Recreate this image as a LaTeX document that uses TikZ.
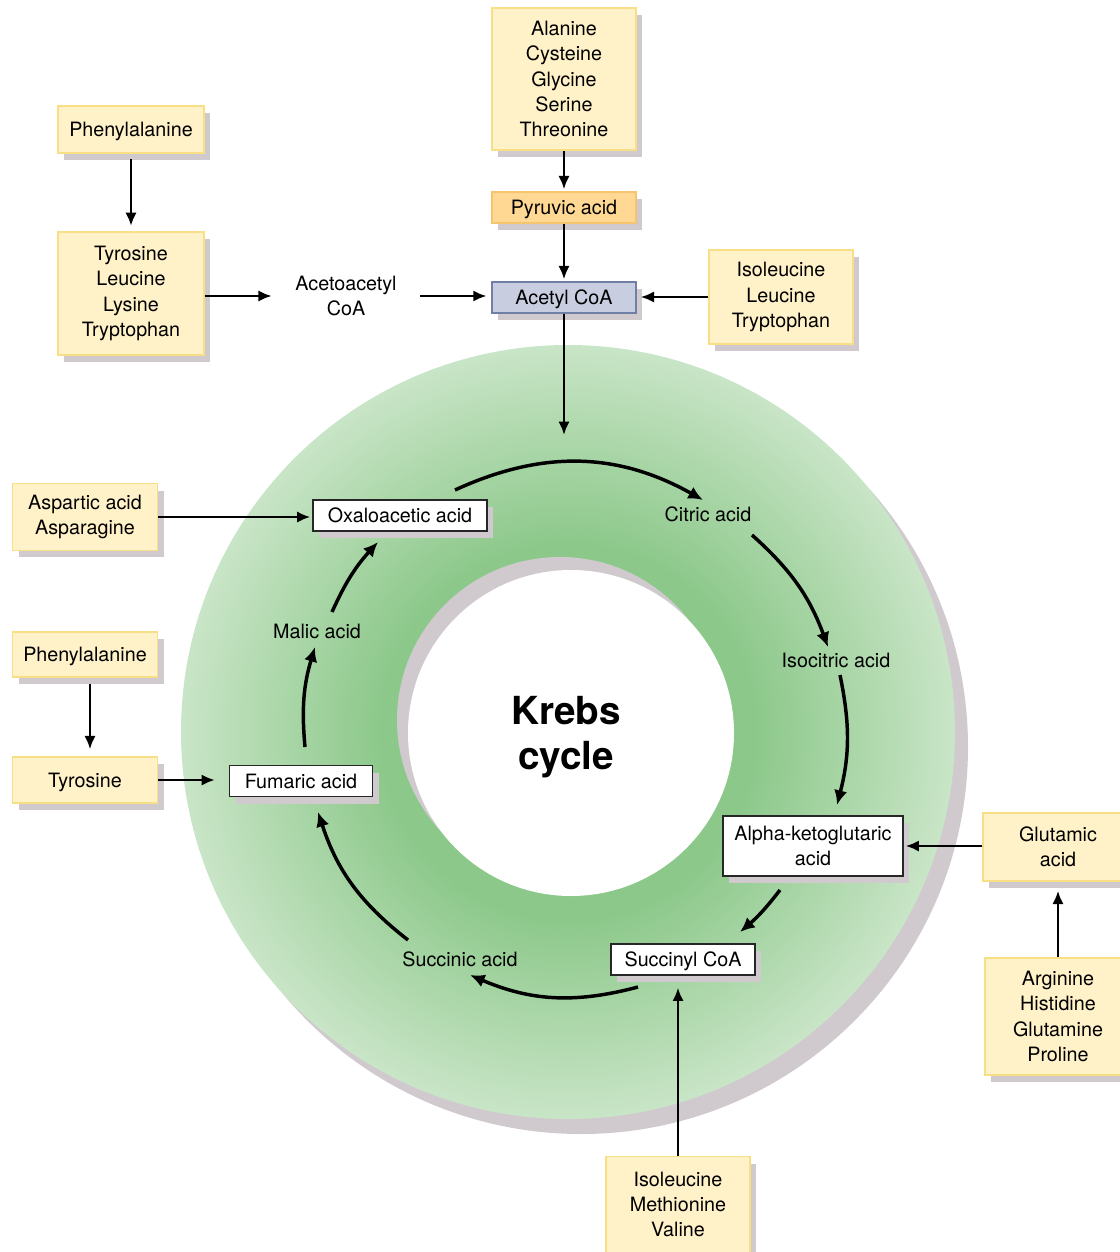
\documentclass[tikz,border=0pt]{standalone}
\usepackage{fontspec}
\setmainfont{TeX Gyre Heros}
\usetikzlibrary{arrows.meta,shadows,calc}
\definecolor{ybfill}{HTML}{FFF2C8}
\definecolor{ybdraw}{HTML}{F8DF85}
\definecolor{pyfill}{HTML}{FFD994}
\definecolor{pydraw}{HTML}{F5C46E}
\definecolor{acfill}{HTML}{C9CDE0}
\definecolor{acdraw}{HTML}{6F7FA6}
\definecolor{shgrey}{HTML}{D0CACF}
\definecolor{kdark}{HTML}{8CC88A}
\definecolor{klight}{HTML}{C9E5C7}
\pgfdeclareradialshading{ringshade}{\pgfpoint{0bp}{0bp}}{color(0bp)=(kdark);color(12bp)=(kdark);color(25bp)=(klight);color(50bp)=(klight)}
\begin{document}
\begin{tikzpicture}[x=0.75pt,y=0.75pt,
  txt/.style={font=\fontsize{14.8}{19}\selectfont},
  box/.style={txt, draw, line width=1.1pt, align=center, inner sep=0pt,
    drop shadow={shadow xshift=4.5pt, shadow yshift=-5.25pt, fill=shgrey, opacity=1}},
  one/.style={text depth=0pt},
  ybox/.style={box, fill=ybfill, draw=ybdraw},
  pybox/.style={box, fill=pyfill, draw=pydraw},
  acbox/.style={box, fill=acfill, draw=acdraw},
  wbox/.style={box, fill=white, draw=black!85, line width=0.9pt},
  lbl/.style={txt, align=center, inner sep=0pt},
  arr/.style={-{Latex[length=10pt,width=8.5pt]}, line width=2.1pt},
  carr/.style={-{Latex[length=11pt,width=10pt]}, line width=2.6pt, bend left=#1}]
\useasboundingbox (0,0) rectangle (1120,-1252);
\clip (0,0) rectangle (1120,-1252);

% ring
\fill[shgrey] (581,-747) circle (387);
\shade[shading=ringshade] (568,-732) circle (387);
\fill[shgrey] (560,-720) circle (163);
\fill[white] (571,-733) circle (163);
\node[font=\fontsize{29}{34}\bfseries\selectfont, align=center] (krebs) at (566,-737) {Krebs\\cycle};

% top column
\node[ybox, minimum width=108pt, minimum height=106.5pt] (top) at (564,-79) {Alanine\\Cysteine\\Glycine\\Serine\\Threonine};
\node[pybox, one, minimum width=108pt, minimum height=23.25pt] (pyr) at (564,-207.5) {Pyruvic acid};
\node[acbox, one, minimum width=108pt, minimum height=23.25pt] (acetyl) at (564,-297.5) {Acetyl CoA};

% top left
\node[ybox, one, minimum width=109.5pt, minimum height=35.25pt] (phe1) at (131,-129.5) {Phenylalanine};
\node[ybox, minimum width=109.5pt, minimum height=92.25pt] (tyr1) at (131,-293.5) {Tyrosine\\Leucine\\Lysine\\Tryptophan};
\node[lbl, minimum width=111pt] (aac) at (346,-296) {Acetoacetyl\\CoA};

% top right
\node[ybox, minimum width=108pt, minimum height=70.5pt] (ile1) at (781,-297) {Isoleucine\\Leucine\\Tryptophan};

% left
\node[ybox, minimum width=108.75pt, minimum height=50pt] (asp) at (85,-517) {Aspartic acid\\Asparagine};
\node[ybox, one, minimum width=108.75pt, minimum height=34pt] (phe2) at (85,-654.5) {Phenylalanine};
\node[ybox, one, minimum width=108.75pt, minimum height=34.5pt] (tyr2) at (85,-780) {Tyrosine};

% cycle members
\node[wbox, one, minimum width=130.5pt, minimum height=23.25pt] (oxa) at (400,-515.5) {Oxaloacetic acid};
\node[lbl] (cit) at (708,-514) {Citric acid};
\node[lbl] (iso) at (836,-660) {Isocitric acid};
\node[wbox, minimum width=135pt, minimum height=45pt] (alpha) at (813,-846) {Alpha-ketoglutaric\\acid};
\node[wbox, one, minimum width=108pt, minimum height=23.25pt] (succ) at (683,-959.5) {Succinyl CoA};
\node[lbl] (sucac) at (460,-959) {Succinic acid};
\node[wbox, one, minimum width=107.25pt, minimum height=23.25pt] (fum) at (301,-781) {Fumaric acid};
\node[lbl] (mal) at (317,-631) {Malic acid};

% right and bottom
\node[ybox, minimum width=112.5pt, minimum height=51pt] (glu) at (1058,-847) {Glutamic\\acid};
\node[ybox, minimum width=109.5pt, minimum height=87.75pt] (arg) at (1058,-1016.5) {Arginine\\Histidine\\Glutamine\\Proline};
\node[ybox, minimum width=108pt, minimum height=72pt] (ile2) at (678,-1204.5) {Isoleucine\\Methionine\\Valine};

% straight arrows
\draw[arr, shorten >=1.5pt] (top.south) -- (pyr.north);
\draw[arr, shorten >=1.5pt] (pyr.south) -- (acetyl.north);
\draw[arr, shorten <=4pt, shorten >=4pt] (phe1.south) -- (tyr1.north);
\draw[arr] (tyr1.east |- aac.west) -- (aac.west);
\draw[arr, shorten >=3.5pt] (aac.east) -- (aac.east -| acetyl.west);
\draw[arr, shorten >=3pt] (ile1.west) -- (ile1.west -| acetyl.east);
\coordinate (ent) at (564,-435);
\draw[arr] (acetyl.south) -- (ent);
\draw[arr, shorten >=1.5pt] (asp.east) -- (asp.east -| oxa.west);
\draw[arr, shorten <=4.5pt, shorten >=5.25pt] ([xshift=3.75pt]phe2.south) -- ([xshift=3.75pt]tyr2.north);
\draw[arr, shorten >=10.5pt] (tyr2.east) -- (tyr2.east -| fum.west);
\draw[arr, shorten >=1.5pt] (glu.west |- alpha.east) -- (alpha.east);
\draw[arr, shorten >=6.75pt] (arg.north) -- (glu.south);
\draw[arr, shorten >=9pt] (ile2.north) -- (ile2.north |- succ.south);

% cycle arrows
\coordinate (c1s) at (455,-490); \coordinate (c1e) at (703,-500);
\coordinate (c2s) at (752,-535); \coordinate (c2e) at (828,-647);
\coordinate (c3s) at (840,-675); \coordinate (c3e) at (837,-805);
\coordinate (c4s) at (780,-890); \coordinate (c4e) at (740,-932);
\coordinate (c5s) at (638,-987); \coordinate (c5e) at (470,-975);
\coordinate (c6s) at (408,-940); \coordinate (c6e) at (318,-812);
\coordinate (c7s) at (305,-747); \coordinate (c7e) at (315,-647);
\coordinate (c8s) at (332,-612); \coordinate (c8e) at (378,-542);
\draw[carr=27] (c1s) to (c1e);
\draw[carr=14] (c2s) to (c2e);
\draw[carr=13] (c3s) to (c3e);
\draw[carr=6] (c4s) to (c4e);
\draw[carr=19] (c5s) to (c5e);
\draw[carr=17] (c6s) to (c6e);
\draw[carr=11] (c7s) to (c7e);
\draw[carr=9] (c8s) to (c8e);
\end{tikzpicture}
\end{document}
